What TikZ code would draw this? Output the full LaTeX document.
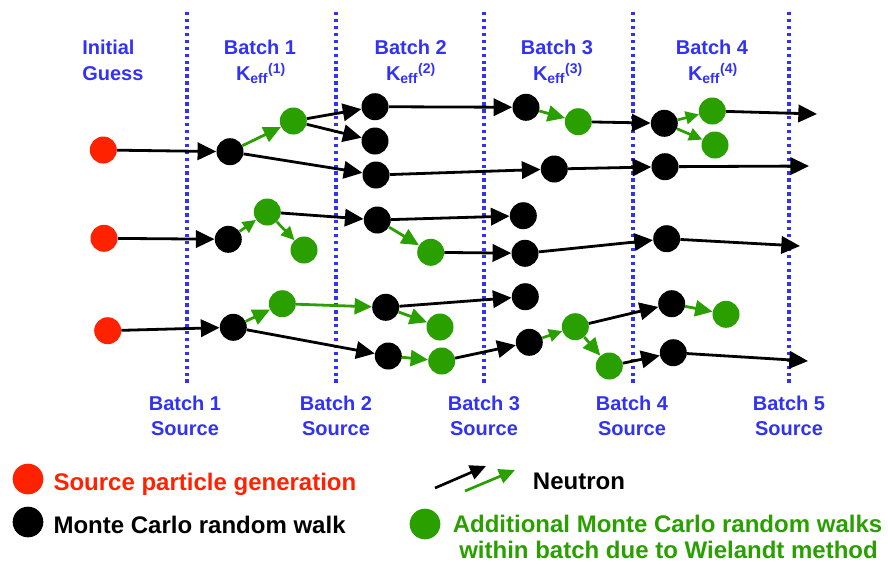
\documentclass[tikz,border=0pt]{standalone}
\usepackage{fontspec}
\setmainfont{Liberation Sans}
\usetikzlibrary{arrows.meta}
\definecolor{cblue}{RGB}{50,50,245}
\definecolor{cred}{RGB}{255,34,0}
\definecolor{cgreen}{RGB}{41,160,0}
\begin{document}
\begin{tikzpicture}[x=0.75pt,y=-0.75pt,
  dot/.style={circle,inner sep=0pt,minimum size=20.25pt},
  blk/.style={dot,fill=black},
  grn/.style={dot,fill=cgreen},
  src/.style={dot,fill=cred},
  bk/.style={draw=black,line width=2.1pt,-{Triangle[length=14pt,width=13pt]}},
  gr/.style={draw=cgreen,line width=2.1pt,-{Triangle[length=13pt,width=12pt]}},
  grs/.style={draw=cgreen,line width=2pt,-{Triangle[length=10pt,width=9.5pt]}},
  sep/.style={draw=cblue,line width=3pt,dash pattern=on 2.6pt off 2.6pt},
  lab/.style={font=\fontsize{15}{18}\bfseries\selectfont,text=cblue,inner sep=0pt,anchor=base},
  leg/.style={font=\fontsize{18}{22}\bfseries\selectfont,inner sep=0pt,anchor=base west}]
\useasboundingbox (0,0) rectangle (888,565);
% separators
\foreach \xx/\nm in {187/s1,336/s2,484/s3,633/s4,789/s5}{
  \coordinate (\nm t) at (\xx,12);
  \coordinate (\nm b) at (\xx,385);
  \draw[sep] (\nm t) -- (\nm b);
}
% top labels
\node[lab,anchor=base west] (ig1) at (82,54.7) {Initial};
\node[lab,anchor=base west] (ig2) at (82,80) {Guess};
\node[lab] (b1) at (260,54.7) {Batch 1};
\node[lab] (k1) at (261,80) {K\textsubscript{eff}\textsuperscript{(1)}};
\node[lab] (b2) at (410.7,54.7) {Batch 2};
\node[lab] (k2) at (411,80) {K\textsubscript{eff}\textsuperscript{(2)}};
\node[lab] (b3) at (557,54.7) {Batch 3};
\node[lab] (k3) at (558,80) {K\textsubscript{eff}\textsuperscript{(3)}};
\node[lab] (b4) at (712,54.7) {Batch 4};
\node[lab] (k4) at (713,80) {K\textsubscript{eff}\textsuperscript{(4)}};
% bottom labels
\foreach \xx/\n in {185/1,336/2,484/3,632/4,789/5}{
  \node[lab] (bs\n) at (\xx,410) {Batch \n};
  \node[lab] (so\n) at (\xx,435) {Source};
}
% row 1
\node[src] (R1) at (103.3,150) {};
\node[blk] (A) at (230,151.7) {};
\node[grn] (G1) at (293.3,121) {};
\node[blk] (B) at (375,106.7) {};
\node[blk] (C) at (375,141) {};
\node[blk] (D) at (376,175) {};
\node[blk] (E) at (526,107.3) {};
\node[grn] (G2) at (578.3,121.7) {};
\node[blk] (F) at (554.3,169) {};
\node[blk] (H) at (664.3,123.3) {};
\node[grn] (G3) at (712.3,111) {};
\node[grn] (G4) at (715,145) {};
\node[blk] (I) at (665,166.7) {};
\coordinate (e1) at (817,114);
\coordinate (e2) at (809,166);
% row 2
\node[src] (R2) at (104,238.3) {};
\node[blk] (J) at (228.3,239.3) {};
\node[grn] (G5) at (267.3,212) {};
\node[grn] (G6) at (304,250) {};
\node[blk] (K) at (377.3,220) {};
\node[grn] (G7) at (430.7,252.3) {};
\node[blk] (L) at (523.3,215.7) {};
\node[blk] (M) at (525,253.3) {};
\node[blk] (N) at (666.7,238.7) {};
\coordinate (e3) at (800,246);
% row 3
\node[src] (R3) at (107.7,330.7) {};
\node[blk] (O) at (233.3,327.3) {};
\node[grn] (G8) at (282.3,303.7) {};
\node[blk] (P) at (385.7,307.3) {};
\node[grn] (G9) at (440,327) {};
\node[blk] (Q) at (388.3,356) {};
\node[grn] (G10) at (441.7,361) {};
\node[blk] (R) at (525.3,296.7) {};
\node[blk] (S) at (529.3,342.3) {};
\node[grn] (G11) at (575.3,326.7) {};
\node[grn] (G12) at (609.3,366) {};
\node[blk] (T) at (671.7,303.7) {};
\node[grn] (G13) at (726,314.3) {};
\node[blk] (U) at (673.3,352.7) {};
\coordinate (e4) at (808,361);
% edges row 1
\draw[bk] (R1) -- (A);
\draw[gr] (A) -- (G1);
\draw[bk] (G1) -- (B);
\draw[bk] (G1) -- (C);
\draw[bk] (A) -- (D);
\draw[bk] (B) -- (E);
\draw[gr] (E) -- (G2);
\draw[bk] (G2) -- (H);
\draw[grs] (H) -- (G3);
\draw[grs] (H) -- (G4);
\draw[bk] (G3) -- (e1);
\draw[bk] (D) -- (F);
\draw[bk] (F) -- (I);
\draw[bk] (I) -- (e2);
% edges row 2
\draw[bk] (R2) -- (J);
\draw[grs] (J) -- (G5);
\draw[grs] (G5) -- (G6);
\draw[bk] (G5) -- (K);
\draw[bk] (K) -- (L);
\draw[gr] (K) -- (G7);
\draw[bk] (G7) -- (M);
\draw[bk] (M) -- (N);
\draw[bk] (N) -- (e3);
% edges row 3
\draw[bk] (R3) -- (O);
\draw[gr] (O) -- (G8);
\draw[gr] (G8) -- (P);
\draw[bk] (O) -- (Q);
\draw[bk] (P) -- (R);
\draw[gr] (P) -- (G9);
\draw[gr] (Q) -- (G10);
\draw[bk] (G10) -- (S);
\draw[grs] (S) -- (G11);
\draw[bk] (G11) -- (T);
\draw[gr] (G11) -- (G12);
\draw[bk] (G12) -- (U);
\draw[gr] (T) -- (G13);
\draw[bk] (U) -- (e4);
% legend
\node[dot,fill=cred,minimum size=23pt] (lr) at (28,479) {};
\node[leg,text=cred] (lrt) at (53.3,490.7) {Source particle generation};
\node[dot,fill=black,minimum size=23pt] (lb) at (28,522) {};
\node[leg,text=black] (lbt) at (53.3,533.3) {Monte Carlo random walk};
\coordinate (la1) at (435,488);
\coordinate (la2) at (486,466);
\coordinate (la3) at (465,491);
\coordinate (la4) at (515,470);
\draw[draw=black,line width=2pt,-{Triangle[length=12pt,width=11pt]}] (la1) -- (la2);
\draw[draw=cgreen,line width=2pt,-{Triangle[length=12pt,width=11pt]}] (la3) -- (la4);
\node[leg,text=black] (lnt) at (532.7,489.3) {Neutron};
\node[dot,fill=cgreen,minimum size=23pt] (lg) at (425,524) {};
\node[leg,text=cgreen,anchor=base] (lgt1) at (667.5,532.7) {Additional Monte Carlo random walks};
\node[leg,text=cgreen,anchor=base] (lgt2) at (668.5,558) {within batch due to Wielandt method};
\end{tikzpicture}
\end{document}
